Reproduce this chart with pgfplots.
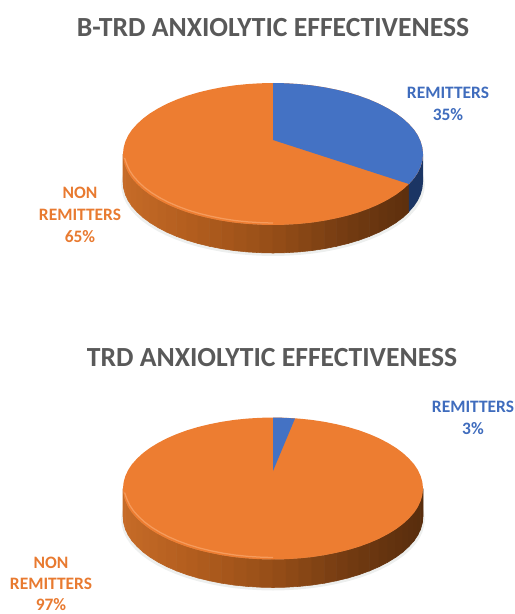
\documentclass[border=0pt]{standalone}
\usepackage{pgfplots}
\usepackage{pgfplotstable}
\usepackage{fontspec}
\setmainfont{Carlito}
\pgfplotsset{compat=1.18}
\definecolor{pieblue}{HTML}{4472C4}
\definecolor{pieorange}{HTML}{ED7D31}
\definecolor{labblue}{HTML}{3F6CBD}
\definecolor{laborange}{HTML}{E87A30}
\definecolor{titlegray}{HTML}{595959}
\definecolor{sidenavy}{HTML}{1B3564}
\definecolor{bevel}{HTML}{F59B5C}
\definecolor{halo}{HTML}{EDEFEE}
\pgfplotsset{colormap={sideo}{rgb255=(198,107,40) rgb255=(176,92,29) rgb255=(150,78,24) rgb255=(115,59,17) rgb255=(88,45,13)}}
% rim of the pie top, relative height
\pgfplotstableread{
x y
123.0 0
123.6 6.2
125.3 12.3
128.1 18.4
132.0 24.3
137.1 30.0
143.1 35.5
150.1 40.7
158.1 45.6
166.9 50.2
176.6 54.4
187.0 58.2
198.0 61.5
209.6 64.3
221.7 66.7
234.2 68.6
247.0 69.9
259.9 70.7
273.0 71
286.1 70.7
299.0 69.9
311.8 68.6
324.3 66.7
336.4 64.3
348.0 61.5
359.0 58.2
369.4 54.4
379.1 50.2
387.9 45.6
395.9 40.7
402.9 35.5
408.9 30.0
414.0 24.3
417.9 18.4
420.7 12.3
422.4 6.2
423.0 0
422.4 -6.2
420.7 -12.3
417.9 -18.4
414.0 -24.3
408.9 -30.0
402.9 -35.5
395.9 -40.7
387.9 -45.6
379.1 -50.2
369.4 -54.4
359.0 -58.2
348.0 -61.5
336.4 -64.3
324.3 -66.7
311.8 -68.6
299.0 -69.9
286.1 -70.7
273.0 -71
259.9 -70.7
247.0 -69.9
234.2 -68.6
221.7 -66.7
209.6 -64.3
198.0 -61.5
187.0 -58.2
176.6 -54.4
166.9 -50.2
158.1 -45.6
150.1 -40.7
143.1 -35.5
137.1 -30.0
132.0 -24.3
128.1 -18.4
125.3 -12.3
123.6 -6.2
123.0 0
}\rim
% side wall, first pie: orange part
\pgfplotstableread{
x y
123.0 0
123.6 6.2
125.3 12.3
128.1 18.4
132.0 24.3
137.1 30.0
143.1 35.5
150.1 40.7
158.1 45.6
166.9 50.2
176.6 54.4
187.0 58.2
198.0 61.5
209.6 64.3
221.7 66.7
234.2 68.6
247.0 69.9
259.9 70.7
273.0 71
286.1 70.7
299.0 69.9
311.8 68.6
324.3 66.7
336.4 64.3
348.0 61.5
359.0 58.2
369.4 54.4
379.1 50.2
387.9 45.6
395.9 40.7
402.9 35.5
408.9 30.0
123.0 28
123.6 34.2
125.3 40.3
128.1 46.4
132.0 52.3
137.1 58.0
143.1 63.5
150.1 68.7
158.1 73.6
166.9 78.2
176.6 82.4
187.0 86.2
198.0 89.5
209.6 92.3
221.7 94.7
234.2 96.6
247.0 97.9
259.9 98.7
273.0 99
286.1 98.7
299.0 97.9
311.8 96.6
324.3 94.7
336.4 92.3
348.0 89.5
359.0 86.2
369.4 82.4
379.1 78.2
387.9 73.6
395.9 68.7
402.9 63.5
408.9 58.0
}\sideA
% side wall, second pie
\pgfplotstableread{
x y
123.0 0
123.6 6.2
125.3 12.3
128.1 18.4
132.0 24.3
137.1 30.0
143.1 35.5
150.1 40.7
158.1 45.6
166.9 50.2
176.6 54.4
187.0 58.2
198.0 61.5
209.6 64.3
221.7 66.7
234.2 68.6
247.0 69.9
259.9 70.7
273.0 71
286.1 70.7
299.0 69.9
311.8 68.6
324.3 66.7
336.4 64.3
348.0 61.5
359.0 58.2
369.4 54.4
379.1 50.2
387.9 45.6
395.9 40.7
402.9 35.5
408.9 30.0
414.0 24.3
417.9 18.4
420.7 12.3
422.4 6.2
423.0 0
123.0 28
123.6 34.2
125.3 40.3
128.1 46.4
132.0 52.3
137.1 58.0
143.1 63.5
150.1 68.7
158.1 73.6
166.9 78.2
176.6 82.4
187.0 86.2
198.0 89.5
209.6 92.3
221.7 94.7
234.2 96.6
247.0 97.9
259.9 98.7
273.0 99
286.1 98.7
299.0 97.9
311.8 96.6
324.3 94.7
336.4 92.3
348.0 89.5
359.0 86.2
369.4 82.4
379.1 78.2
387.9 73.6
395.9 68.7
402.9 63.5
408.9 58.0
414.0 52.3
417.9 46.4
420.7 40.3
422.4 34.2
423.0 28
}\sideB
% light edge along the front of the top
\pgfplotstableread{
x y
124.6 4
126.8 10.3
129.6 16.4
133.5 22.3
138.6 28.0
144.6 33.5
151.6 38.7
159.6 43.6
168.4 48.2
178.1 52.4
188.5 56.2
199.5 59.5
211.1 62.3
223.2 64.7
235.7 66.6
248.5 67.9
261.4 68.7
273.0 69
}\bevelline
\begin{document}
\begin{tikzpicture}
\begin{axis}[
  axis line style={draw=none}, ticks=none, scale only axis, width=5.15in, height=6.14in,
  xmin=0, xmax=515, ymin=0, ymax=614, y dir=reverse,
  point meta min=123, point meta max=423,
  clip=false]
% ---- first pie
\addplot[fill=halo, draw=none] table[x expr=273+1.012*(\thisrow{x}-273), y expr=\thisrow{y}+185] {\rim};
\addplot[surf, shader=flat, mesh/rows=2, colormap name=sideo, point meta=x] table[x=x, y expr=\thisrow{y}+154] {\sideA};
\addplot[fill=sidenavy, draw=none] coordinates {(408.9,184)(414,178.3)(417.9,172.4)(420.7,166.3)(422.4,160.2)(423,154)(423,182)(422.4,188.2)(420.7,194.3)(417.9,200.4)(414,206.3)(408.9,212)} -- cycle;
\addplot[fill=pieorange, draw=none] table[x=x, y expr=\thisrow{y}+154] {\rim};
\addplot[fill=pieblue, draw=none] coordinates {(273,140)(273,83)(286.1,83.3)(299,84.1)(311.8,85.4)(324.3,87.3)(336.4,89.7)(348,92.5)(359,95.8)(369.4,99.6)(379.1,103.8)(387.9,108.4)(395.9,113.3)(402.9,118.5)(408.9,124)(414,129.7)(417.9,135.6)(420.7,141.7)(422.4,147.8)(423,154)(422.4,160.2)(420.7,166.3)(417.9,172.4)(414,178.3)(408.9,184)} -- cycle;
\addplot[draw=bevel, line width=0.9pt, no marks] table[x=x, y expr=\thisrow{y}+154] {\bevelline};
% ---- second pie
\addplot[fill=halo, draw=none] table[x expr=273+1.012*(\thisrow{x}-273), y expr=\thisrow{y}+519.5] {\rim};
\addplot[surf, shader=flat, mesh/rows=2, colormap name=sideo, point meta=x] table[x=x, y expr=\thisrow{y}+488.5] {\sideB};
\addplot[fill=pieorange, draw=none] table[x=x, y expr=\thisrow{y}+488.5] {\rim};
\addplot[fill=pieblue, draw=none] coordinates {(273,471)(273,417.5)(284,417.8)(295,418.5)} -- cycle;
\addplot[draw=bevel, line width=0.9pt, no marks] table[x=x, y expr=\thisrow{y}+488.5] {\bevelline};
% ---- texts
\node[text=titlegray, font=\fontsize{20}{24}\selectfont\bfseries] at (axis cs:273,28) {B-TRD ANXIOLYTIC EFFECTIVENESS};
\node[text=titlegray, font=\fontsize{20}{24}\selectfont\bfseries] at (axis cs:272,358) {TRD ANXIOLYTIC EFFECTIVENESS};
\tikzset{lab/.style={font=\fontsize{12.6}{15.8}\selectfont\bfseries, align=center, inner sep=0pt}}
\node[lab, text=labblue] at (axis cs:448,104) {REMITTERS\\35\%};
\node[lab, text=laborange] at (axis cs:80,215) {NON\\REMITTERS\\65\%};
\node[lab, text=labblue, overlay] at (axis cs:473,418) {REMITTERS\\3\%};
\node[lab, text=laborange, overlay, font=\fontsize{12.6}{15}\selectfont\bfseries] at (axis cs:51,584) {NON\\REMITTERS\\97\%};
\end{axis}
\end{tikzpicture}
\end{document}
